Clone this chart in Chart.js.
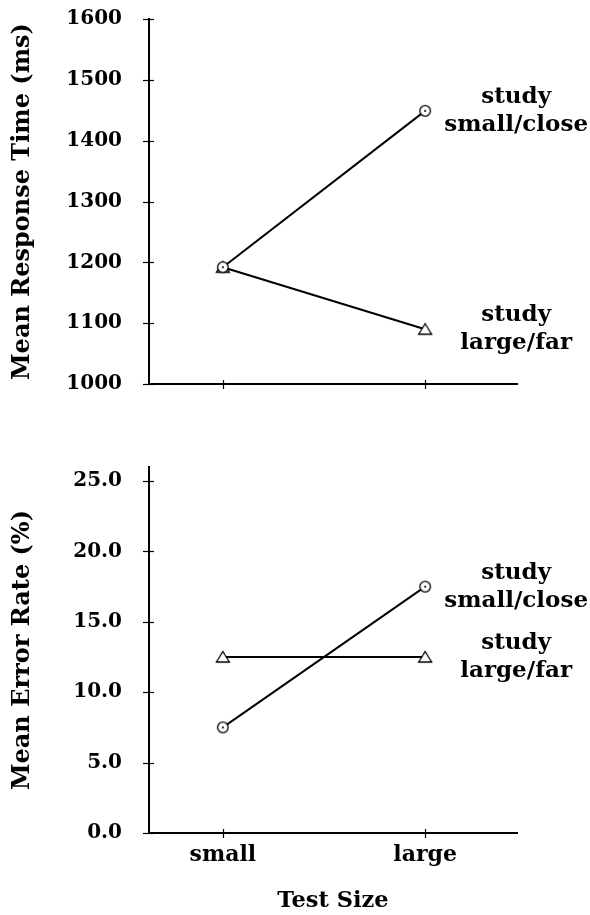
<!DOCTYPE html>
<html>
<head>
<meta charset="utf-8">
<script src="https://cdn.jsdelivr.net/npm/chart.js@4.4.1/dist/chart.umd.min.js"></script>
<style>
  html, body { margin: 0; padding: 0; background: #fff; }
  #wrap { position: relative; width: 590px; height: 915px; overflow: hidden; }
  #topBox { position: absolute; left: 0; top: 0; width: 590px; height: 400px; }
  #botBox { position: absolute; left: 0; top: 420px; width: 590px; height: 495px; }
</style>
</head>
<body>
<div id="wrap">
  <div id="topBox"><canvas id="c1" width="590" height="400"></canvas></div>
  <div id="botBox"><canvas id="c2" width="590" height="495"></canvas></div>
</div>
<script>
// ---- data ----
const categories = ['small', 'large'];
const seriesNames = [['study', 'small/close'], ['study', 'large/far']];
const rtSmallClose = [1192, 1449];
const rtLargeFar = [1192, 1090];
const errSmallClose = [7.5, 17.5];
const errLargeFar = [12.5, 12.5];
const rtTickValues = [1000, 1100, 1200, 1300, 1400, 1500, 1600];
const errTickValues = [0, 5, 10, 15, 20, 25];

const SERIF = '"DejaVu Serif", "Liberation Serif", serif';

function circleDot() {
  const c = document.createElement('canvas');
  c.width = 14; c.height = 14;
  const g = c.getContext('2d');
  g.fillStyle = '#fff';
  g.strokeStyle = '#000';
  g.lineWidth = 1.3;
  g.beginPath(); g.arc(7, 7, 5.3, 0, Math.PI * 2); g.fill(); g.stroke();
  g.fillStyle = '#000';
  g.beginPath(); g.arc(7, 7, 1.1, 0, Math.PI * 2); g.fill();
  return c;
}
function triangle() {
  const c = document.createElement('canvas');
  c.width = 16; c.height = 14;
  const g = c.getContext('2d');
  g.fillStyle = '#fff';
  g.strokeStyle = '#000';
  g.lineWidth = 1.3;
  g.beginPath(); g.moveTo(8, 1.5); g.lineTo(14.5, 12); g.lineTo(1.5, 12); g.closePath();
  g.fill(); g.stroke();
  return c;
}
const circImg = circleDot();
const triImg = triangle();

function toPts(arr) { return arr.map((v, i) => ({ x: i + 1, y: v })); }

const crossTicks = {
  id: 'crossTicks',
  afterDraw(chart) {
    const ctx = chart.ctx;
    const ca = chart.chartArea;
    ctx.save();
    ctx.strokeStyle = '#000';
    ctx.lineWidth = 1.2;
    const ys = chart.scales.y;
    ys.ticks.forEach(t => {
      const py = Math.round(ys.getPixelForValue(t.value)) + 0.5;
      ctx.beginPath(); ctx.moveTo(ca.left - 6, py); ctx.lineTo(ca.left + 5, py); ctx.stroke();
    });
    const xs = chart.scales.x;
    xs.ticks.forEach(t => {
      const px = Math.round(xs.getPixelForValue(t.value)) + 0.5;
      ctx.beginPath(); ctx.moveTo(px, ca.bottom - 4); ctx.lineTo(px, ca.bottom + 5); ctx.stroke();
    });
    ctx.restore();
  }
};

const seriesLabelsPlugin = {
  id: 'seriesLabels',
  afterDatasetsDraw(chart) {
    const ctx = chart.ctx;
    ctx.save();
    ctx.fillStyle = '#000';
    ctx.font = 'bold 23px ' + SERIF;
    ctx.textAlign = 'center';
    ctx.textBaseline = 'middle';
    chart.data.datasets.forEach((ds, i) => {
      const meta = chart.getDatasetMeta(i);
      const el = meta.data[meta.data.length - 1];
      const lines = seriesNames[i];
      const cx = el.x + 91;
      ctx.fillText(lines[0], cx, el.y - 14);
      ctx.fillText(lines[1], cx, el.y + 14);
    });
    ctx.restore();
  }
};

function makeChart(canvasId, s1, s2, yMin, yMax, tickVals, fmt, yTitle, showX, padTop) {
  return new Chart(document.getElementById(canvasId), {
    type: 'line',
    data: {
      datasets: [
        { data: toPts(s1), borderColor: '#000', borderWidth: 2, pointStyle: circImg, pointRadius: 6, tension: 0 },
        { data: toPts(s2), borderColor: '#000', borderWidth: 2, pointStyle: triImg, pointRadius: 6, tension: 0 }
      ]
    },
    options: {
      responsive: false,
      animation: false,
      events: [],
      layout: { padding: { top: padTop, right: 73, left: 0, bottom: 0 } },
      plugins: { legend: { display: false }, tooltip: { enabled: false } },
      scales: {
        x: {
          type: 'linear',
          min: 0.635,
          max: 2.454,
          grid: { display: false, drawTicks: false },
          border: { display: true, color: '#000', width: 2 },
          afterBuildTicks(s) { s.ticks = categories.map((c, i) => ({ value: i + 1 })); },
          afterFit(s) { s.height = showX ? 82 : 16; },
          ticks: {
            display: showX,
            color: '#000',
            padding: 9,
            font: { family: SERIF, size: 22, weight: 'bold' },
            callback: (v) => categories[v - 1]
          },
          title: {
            display: showX,
            text: 'Test Size',
            color: '#000',
            padding: { top: 0, bottom: 0 },
            font: { family: SERIF, size: 22.5, weight: 'bold' }
          }
        },
        y: {
          min: yMin,
          max: yMax,
          grid: { display: true, drawOnChartArea: false, drawTicks: true, tickLength: 27, tickColor: 'rgba(0,0,0,0)', color: 'rgba(0,0,0,0)' },
          border: { display: true, color: '#000', width: 2 },
          afterBuildTicks(s) { s.ticks = tickVals.map(v => ({ value: v })); },
          afterFit(s) { s.width = 149; },
          ticks: {
            color: '#000',
            padding: 0,
            font: { family: SERIF, size: 20, weight: 'bold' },
            callback: fmt
          },
          title: {
            display: true,
            text: yTitle,
            color: '#000',
            padding: { top: 8, bottom: 0 },
            font: { family: SERIF, size: 24, weight: 'bold' }
          }
        }
      }
    },
    plugins: [crossTicks, seriesLabelsPlugin]
  });
}

makeChart('c1', rtSmallClose, rtLargeFar, 1000, 1600, rtTickValues, v => String(v), 'Mean Response Time (ms)', false, 19);
makeChart('c2', errSmallClose, errLargeFar, 0, 26, errTickValues, v => Number(v).toFixed(1), 'Mean Error Rate (%)', true, 47);
</script>
</body>
</html>
